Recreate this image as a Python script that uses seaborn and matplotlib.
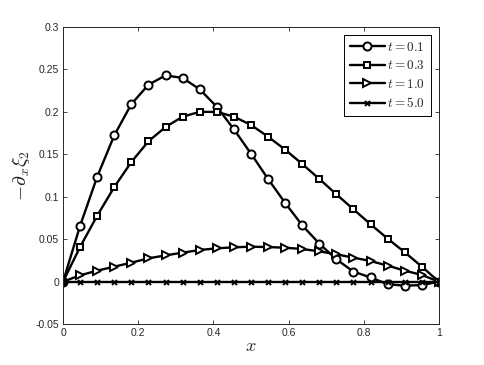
import numpy as np
import pandas as pd
import seaborn as sns
import matplotlib.pyplot as plt

# values, 23 nodes on [0, 1]
x = np.arange(23) / 22

t01 = [0, 0.066, 0.1237, 0.1724, 0.2093, 0.232, 0.243, 0.240, 0.2266, 0.206,
       0.1795, 0.1508, 0.121, 0.0927, 0.0664, 0.0448, 0.0263, 0.0118, 0.005,
       -0.003, -0.0047, -0.004, 0]
t03 = [0, 0.041, 0.0778, 0.1115, 0.141, 0.1654, 0.1822, 0.1944, 0.200, 0.200,
       0.1944, 0.1846, 0.1708, 0.1555, 0.1386, 0.121, 0.1029, 0.0852, 0.0676,
       0.0507, 0.0346, 0.0177, 0]
t10 = [0, 0.0075, 0.013, 0.0177, 0.0224, 0.0275, 0.031, 0.0342, 0.0373, 0.0393,
       0.0405, 0.0412, 0.0408, 0.040, 0.0385, 0.0357, 0.0322, 0.0283, 0.0243,
       0.0189, 0.013, 0.0079, 0]
t50 = [0] * 23

series = [("$t = 0.1$", t01, "o", 5.8), ("$t = 0.3$", t03, "s", 4.6),
          ("$t = 1.0$", t10, ">", 5.8), ("$t = 5.0$", t50, "x", 3.6)]

y_ticks = [-0.05, 0, 0.05, 0.1, 0.15, 0.2, 0.25, 0.3]
y_labels = ["-0.05", "0", "0.05", "0.1", "0.15", "0.2", "0.25", "0.3"]
x_ticks = [0, 0.2, 0.4, 0.6, 0.8, 1]
x_labels = ["0", "0.2", "0.4", "0.6", "0.8", "1"]

sns.set_style("ticks")
plt.rcParams["font.family"] = ["Liberation Sans", "DejaVu Sans"]
plt.rcParams["mathtext.fontset"] = "cm"

fig = plt.figure(figsize=(4.85, 3.65), dpi=100)
ax = fig.add_axes([0.130, 0.112, 0.775, 0.814])

for label, vals, mk, ms in series:
    df = pd.DataFrame({"x": x, "y": vals})
    sns.lineplot(data=df, x="x", y="y", ax=ax, color="black", lw=1.7,
                 marker=mk, markersize=ms, markerfacecolor="white",
                 markeredgecolor="black", markeredgewidth=1.4,
                 label=label, legend=False)

ax.set_xlim(0, 1)
ax.set_ylim(-0.05, 0.3)
ax.set_xticks(x_ticks)
ax.set_xticklabels(x_labels)
ax.set_yticks(y_ticks)
ax.set_yticklabels(y_labels)
ax.tick_params(direction="in", top=True, right=True, length=3, width=0.6,
               labelsize=7.5, pad=3)
for s in ax.spines.values():
    s.set_linewidth(0.7)
    s.set_visible(True)

ax.set_xlabel("$x$", fontsize=13, labelpad=0)
ax.set_ylabel(r"$-\partial_x\xi_2$", fontsize=14, labelpad=2)

leg = ax.legend(loc="upper right", numpoints=1, handlelength=2.6,
                fontsize=9.5, fancybox=False, edgecolor="black",
                framealpha=1, borderpad=0.45, labelspacing=0.42,
                handletextpad=0.2, borderaxespad=0.6)
leg.get_frame().set_linewidth(0.7)

fig.savefig("out.png", dpi=100)
